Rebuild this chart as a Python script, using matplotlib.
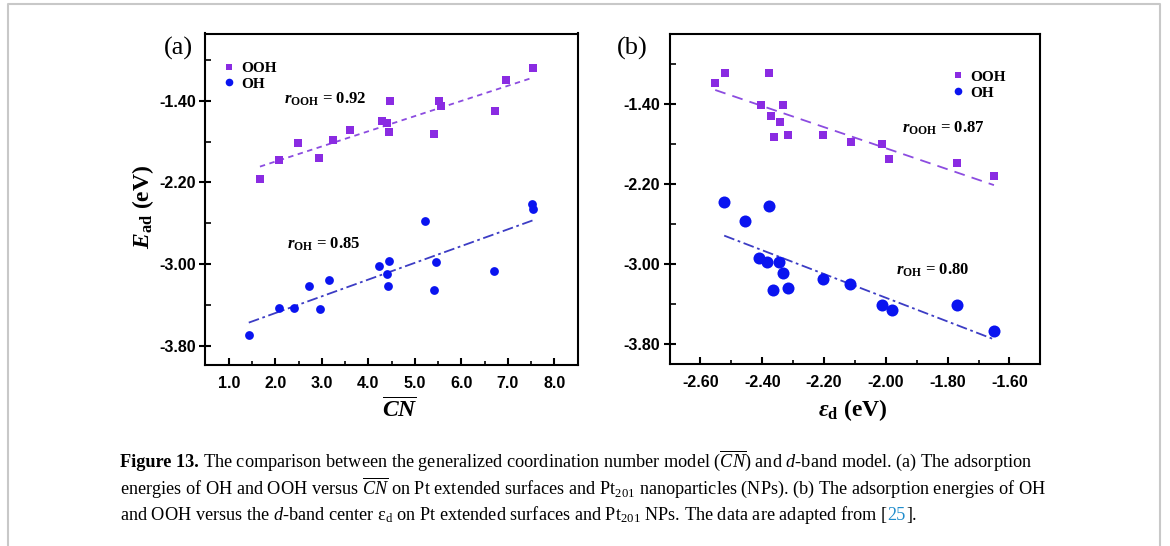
import numpy as np
import matplotlib
matplotlib.use('Agg')
import matplotlib.pyplot as plt
from matplotlib.lines import Line2D
from matplotlib.ticker import FixedLocator, FormatStrFormatter

plt.rcParams['axes.unicode_minus'] = False
plt.rcParams['mathtext.fontset'] = 'custom'
plt.rcParams['mathtext.rm'] = 'Liberation Serif'
plt.rcParams['mathtext.it'] = 'Liberation Serif:italic'
plt.rcParams['mathtext.bf'] = 'Liberation Serif:bold'
plt.rcParams['mathtext.bfit'] = 'Liberation Serif:italic:bold'

########## data
# (a) E_ad vs generalized coordination number
cn_ooh = [1.67, 2.08, 2.49, 2.93, 3.25, 3.61, 4.30, 4.41, 4.45, 4.47, 5.41, 5.51, 5.56, 6.73, 6.96, 7.54]
e_ooh_cn = [-2.17, -1.98, -1.81, -1.96, -1.78, -1.69, -1.60, -1.62, -1.71, -1.40, -1.73, -1.40, -1.45, -1.50, -1.20, -1.08]
cn_oh = [1.43, 2.09, 2.40, 2.72, 2.96, 3.15, 4.23, 4.40, 4.42, 4.45, 5.21, 5.41, 5.46, 6.70, 7.52, 7.54]
e_oh_cn = [-3.70, -3.43, -3.43, -3.22, -3.44, -3.16, -3.02, -3.10, -3.22, -2.97, -2.58, -3.25, -2.98, -3.07, -2.41, -2.46]

# (b) E_ad vs d-band center
ed_ooh = [-2.552, -2.521, -2.379, -2.404, -2.334, -2.371, -2.341, -2.363, -2.317, -2.204, -2.113, -2.013, -1.991, -1.771, -1.650]
e_ooh_ed = [-1.19, -1.09, -1.09, -1.41, -1.41, -1.52, -1.58, -1.73, -1.71, -1.71, -1.78, -1.80, -1.95, -1.99, -2.12]
ed_oh = [-2.523, -2.379, -2.455, -2.409, -2.384, -2.346, -2.333, -2.366, -2.317, -2.204, -2.116, -2.013, -1.980, -1.771, -1.650]
e_oh_ed = [-2.38, -2.42, -2.57, -2.94, -2.98, -2.98, -3.09, -3.26, -3.24, -3.15, -3.20, -3.41, -3.46, -3.41, -3.67]

r_a = ['0.92', '0.85']
r_b = ['0.87', '0.80']

y_major = [-1.40, -2.20, -3.00, -3.80]
y_minor = [-1.00, -1.80, -2.60, -3.40]
xa_major = [1.0, 2.0, 3.0, 4.0, 5.0, 6.0, 7.0, 8.0]
xa_minor = [1.5, 2.5, 3.5, 4.5, 5.5, 6.5, 7.5]
xb_major = [-2.60, -2.40, -2.20, -2.00, -1.80, -1.60]
xb_minor = [-2.50, -2.30, -2.10, -1.90, -1.70]

W, H = 1170, 546
C_OOH = '#8a2be2'
C_OH = '#0a14f0'
C_OOH_LINE = '#8c4ce0'
C_OH_LINE = '#3c3cc4'
tickfont = {'family': 'Liberation Sans', 'weight': 'bold', 'size': 11.5}
serif_b = {'family': 'Liberation Serif', 'weight': 'bold'}

fig = plt.figure(figsize=(W / 100, H / 100), dpi=100)

def px_axes(l, t, r, b):
    return fig.add_axes([l / W, 1 - b / H, (r - l) / W, (b - t) / H])

axa = px_axes(205.5, 33.5, 577.7, 365)
axb = px_axes(669.5, 34.3, 1040.3, 364.3)


def fit_line(ax, x, y, color, ls):
    k, c = np.polyfit(x, y, 1)
    xx = np.array([min(x), max(x)])
    ax.plot(xx, k * xx + c, color=color, ls=ls, lw=1.3, zorder=2)


# panel (a)
axa.scatter(cn_ooh, e_ooh_cn, marker='s', s=30, color=C_OOH, zorder=3, linewidths=0)
axa.scatter(cn_oh, e_oh_cn, marker='o', s=40, color=C_OH, zorder=3, linewidths=0)
fit_line(axa, cn_ooh, e_ooh_cn, C_OOH_LINE, (0, (3, 2.5)))
fit_line(axa, cn_oh, e_oh_cn, C_OH_LINE, (0, (6, 2, 1.5, 2)))
axa.set_xlim(0.5, 8.5)
axa.set_ylim(-3.99, -0.74)
axa.xaxis.set_major_locator(FixedLocator(xa_major))
axa.xaxis.set_minor_locator(FixedLocator(xa_minor))
axa.xaxis.set_major_formatter(FormatStrFormatter('%.1f'))
axa.text(0.21, 0.80, r'$\mathbfit{r}_{\mathbf{OOH}}$ = ' + r_a[0], transform=axa.transAxes,
         fontsize=12, va='center', **serif_b)
axa.text(0.22, 0.363, r'$\mathbfit{r}_{\mathbf{OH}}$ = ' + r_a[1], transform=axa.transAxes,
         fontsize=12, va='center', **serif_b)

# panel (b)
axb.scatter(ed_ooh, e_ooh_ed, marker='s', s=28, color=C_OOH, zorder=3, linewidths=0)
axb.scatter(ed_oh, e_oh_ed, marker='o', s=75, color=C_OH, zorder=3, linewidths=0)
fit_line(axb, ed_ooh, e_ooh_ed, C_OOH_LINE, (0, (6, 4)))
fit_line(axb, ed_oh, e_oh_ed, C_OH_LINE, (0, (6, 2, 1.5, 2)))
axb.set_xlim(-2.70, -1.50)
axb.set_ylim(-4.00, -0.70)
axb.xaxis.set_major_locator(FixedLocator(xb_major))
axb.xaxis.set_minor_locator(FixedLocator(xb_minor))
axb.xaxis.set_major_formatter(FormatStrFormatter('%.2f'))
axb.text(0.628, 0.714, r'$\mathbfit{r}_{\mathbf{OOH}}$ = ' + r_b[0], transform=axb.transAxes,
         fontsize=12, va='center', **serif_b)
axb.text(0.612, 0.286, r'$\mathbfit{r}_{\mathbf{OH}}$ = ' + r_b[1], transform=axb.transAxes,
         fontsize=12, va='center', **serif_b)

for ax in (axa, axb):
    ax.yaxis.set_major_locator(FixedLocator(y_major))
    ax.yaxis.set_minor_locator(FixedLocator(y_minor))
    ax.yaxis.set_major_formatter(FormatStrFormatter('%.2f'))
    for sp in ax.spines.values():
        sp.set_linewidth(1.5)
    ax.tick_params(axis='x', which='major', direction='in', length=5, width=1.5, pad=8)
    ax.tick_params(axis='x', which='minor', direction='in', length=3, width=1.2)
    ax.tick_params(axis='y', which='major', direction='inout', length=8, width=1.5, pad=3)
    ax.tick_params(axis='y', which='minor', direction='in', length=4, width=1.2)
    for lab in ax.get_xticklabels() + ax.get_yticklabels():
        lab.set_fontproperties(matplotlib.font_manager.FontProperties(**tickfont))

    handles = [Line2D([], [], ls='none', marker='s', ms=5, color=C_OOH, mew=0),
               Line2D([], [], ls='none', marker='o', ms=5.5, color=C_OH, mew=0)]
    anchor = (0.03, 0.935) if ax is axa else (0.745, 0.91)
    ax.legend(handles, ['OOH', 'OH'], loc='upper left', bbox_to_anchor=anchor, frameon=False,
              handlelength=0.8, handletextpad=0.4, labelspacing=0.15, borderaxespad=0,
              prop={'family': 'Liberation Serif', 'weight': 'bold', 'size': 11})

# labels
fig.text(178 / W, 1 - 48 / H, '(a)', family='Liberation Serif', fontsize=19, ha='center', va='center')
fig.text(632 / W, 1 - 48 / H, '(b)', family='Liberation Serif', fontsize=19, ha='center', va='center')
fig.text(143 / W, 1 - 207 / H, r'$\mathbfit{E}_{\mathbf{ad}}$ (eV)', rotation=90,
         fontsize=17, ha='center', va='center', **serif_b)
fig.text(400 / W, 1 - 410 / H, r'$\overline{\mathbfit{CN}}$', fontsize=17,
         ha='center', va='center', **serif_b)
fig.text(853 / W, 1 - 410 / H, r'$\mathbfit{\varepsilon}_{\mathbf{d}}$ (eV)', fontsize=17,
         ha='center', va='center', **serif_b)

# page frame
fig.add_artist(Line2D([8 / W, 8 / W, 1160 / W, 1160 / W], [0, 1 - 4 / H, 1 - 4 / H, 0],
                      transform=fig.transFigure, color='#c8c8c8', lw=1.5))

# caption
renderer = fig.canvas.get_renderer()
cap1 = (r'The comparison between the generalized coordination number model ($\overline{CN}$)'
        r' and $d$-band model. (a) The adsorption')
cap2 = (r'energies of OH and OOH versus $\overline{CN}$ on Pt extended surfaces and Pt$_{\mathrm{201}}$'
        r' nanoparticles (NPs). (b) The adsorption energies of OH')
cap3a = r'and OOH versus the $d$-band center $\mathrm{\varepsilon}_{\mathrm{d}}$ on Pt extended surfaces and Pt$_{\mathrm{201}}$ NPs. The data are adapted from ['


def caption(fs):
    arts = []
    x0 = 120
    kw = dict(family='Liberation Serif', fontsize=fs, va='baseline', ha='left')
    t = fig.text(x0 / W, 1 - 467 / H, 'Figure 13.', weight='bold', **kw)
    arts.append(t)
    x1 = t.get_window_extent(renderer).x1
    t = fig.text((x1 + 0.25 * fs * 100 / 72) / W, 1 - 467 / H, cap1, **kw)
    arts.append(t)
    end1 = t.get_window_extent(renderer).x1
    arts.append(fig.text(x0 / W, 1 - 494 / H, cap2, **kw))
    t = fig.text(x0 / W, 1 - 520 / H, cap3a, **kw)
    arts.append(t)
    x1 = t.get_window_extent(renderer).x1
    t = fig.text(x1 / W, 1 - 520 / H, '25', color='#1f8ccc', **kw)
    arts.append(t)
    x1 = t.get_window_extent(renderer).x1
    arts.append(fig.text(x1 / W, 1 - 520 / H, '].', **kw))
    return arts, end1 - x0


arts, w1 = caption(12)
for a in arts:
    a.remove()
caption(12 * 912 / w1)

fig.savefig('out.png', dpi=100, facecolor='white')
